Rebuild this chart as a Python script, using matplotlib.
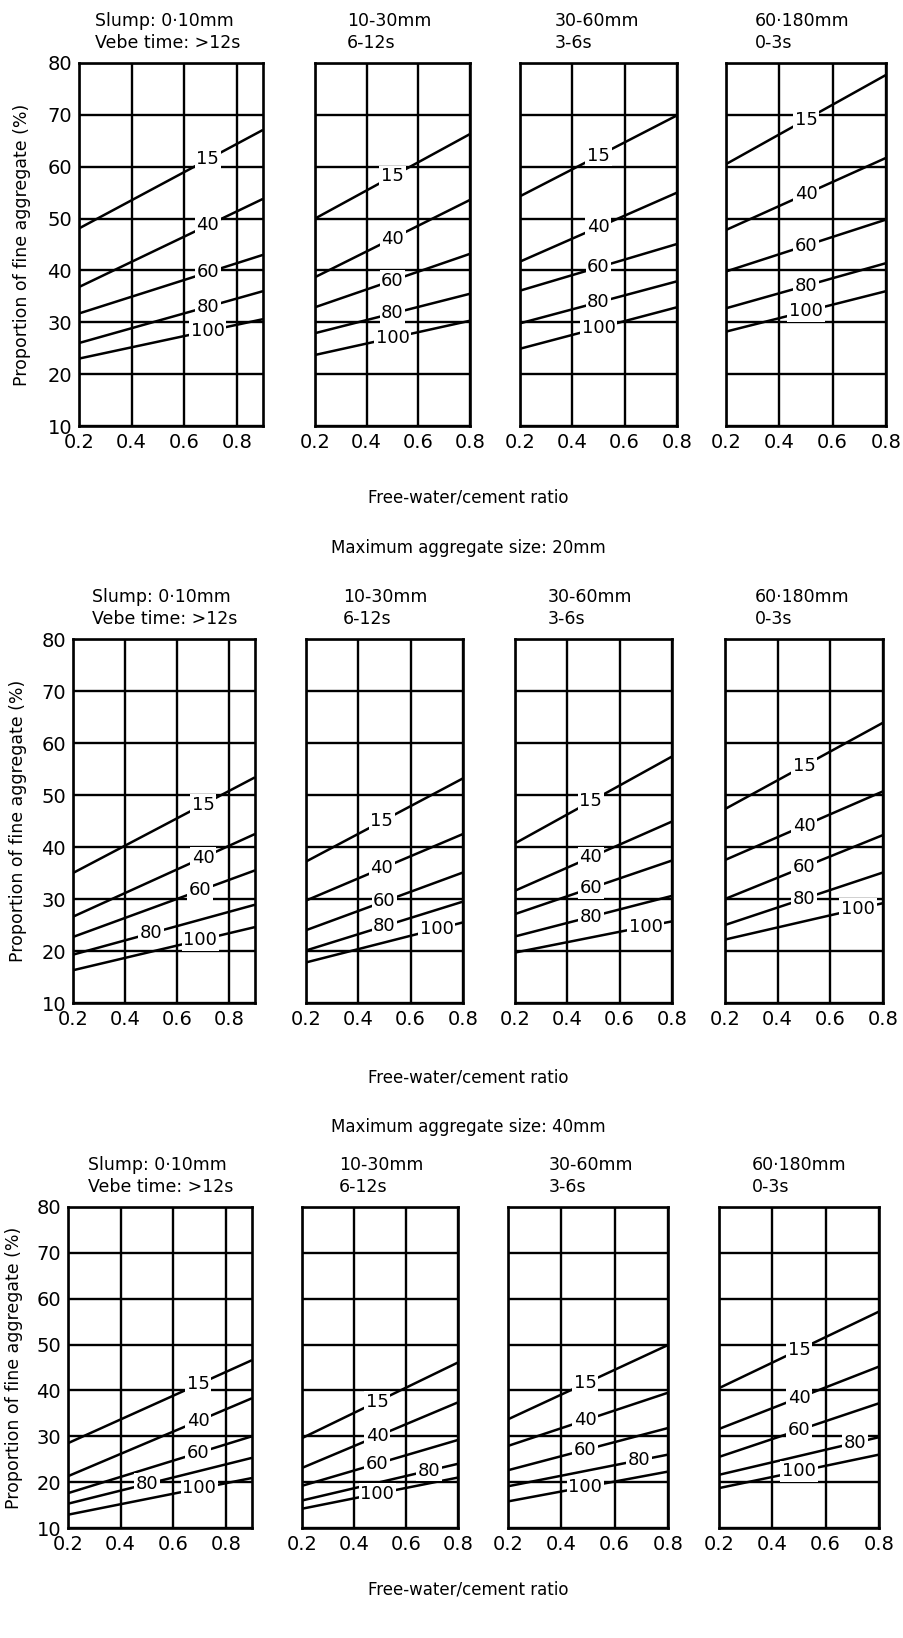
import numpy as np
import matplotlib
matplotlib.use('Agg')
import matplotlib.pyplot as plt

# %% data
# curves: % of fine aggregate passing 600um sieve
curve_names = ['15', '40', '60', '80', '100']
x_start = 0.2
x_end = [0.9, 0.8, 0.8, 0.8]

slump_top = ['Slump: 0·10mm', '10-30mm', '30-60mm', '60·180mm']
vebe_bottom = ['Vebe time: >12s', '6-12s', '3-6s', '0-3s']

# values at w/c = 0.2 and at right edge, one list per slump panel
start_10mm = [[48.1, 36.8, 31.7, 26.0, 23.0], [50.0, 38.7, 32.9, 27.9, 23.7],
              [54.3, 41.7, 36.1, 29.8, 24.9], [60.5, 47.8, 39.8, 32.7, 28.2]]
end_10mm = [[67.1, 53.8, 43.0, 36.0, 30.6], [66.3, 53.6, 43.2, 35.5, 30.3],
            [69.9, 55.0, 45.1, 37.9, 32.9], [77.7, 61.7, 49.8, 41.4, 36.0]]
labx_10mm = [[0.69, 0.69, 0.69, 0.69, 0.69], [0.5, 0.5, 0.5, 0.5, 0.5],
             [0.5, 0.5, 0.5, 0.5, 0.5], [0.5, 0.5, 0.5, 0.5, 0.5]]

start_20mm = [[35.0, 26.6, 22.7, 19.3, 16.3], [37.2, 29.7, 24.0, 20.1, 17.8],
              [40.7, 31.6, 27.1, 22.8, 19.7], [47.3, 37.5, 30.0, 25.0, 22.2]]
end_20mm = [[53.4, 42.5, 35.5, 28.9, 24.6], [53.2, 42.5, 35.1, 29.5, 25.5],
            [57.4, 44.9, 37.4, 30.6, 25.7], [63.9, 50.7, 42.3, 35.1, 29.2]]
labx_20mm = [[0.70, 0.70, 0.69, 0.50, 0.69], [0.49, 0.49, 0.5, 0.5, 0.70],
             [0.49, 0.49, 0.49, 0.49, 0.70], [0.5, 0.5, 0.5, 0.5, 0.705]]

start_40mm = [[28.5, 21.3, 17.6, 15.3, 12.9], [29.6, 23.1, 19.2, 16.0, 14.2],
              [33.7, 27.9, 22.6, 19.1, 15.8], [40.5, 31.6, 25.5, 21.6, 18.7]]
end_40mm = [[46.6, 38.3, 30.0, 25.3, 20.9], [46.1, 37.4, 29.2, 24.0, 21.0],
            [49.9, 39.5, 31.8, 26.0, 22.3], [57.2, 45.2, 37.2, 29.8, 26.0]]
labx_40mm = [[0.695, 0.695, 0.695, 0.50, 0.70], [0.49, 0.49, 0.49, 0.69, 0.49],
             [0.49, 0.49, 0.49, 0.69, 0.49], [0.5, 0.5, 0.5, 0.71, 0.5]]

x_ticks = [0.2, 0.4, 0.6, 0.8]
y_ticks = [10, 20, 30, 40, 50, 60, 70, 80]

# %% layout (pixels of the 904x1638 picture)
W, H = 904, 1638
rows = [
    dict(top=63, bottom=426, cols=[(79, 263), (315, 470), (520, 677), (726, 886)],
         head_x=[95, 347, 555, 755], ylab_x=22, xlab_y=497, big=None,
         start=start_10mm, end=end_10mm, labx=labx_10mm),
    dict(top=639, bottom=1003, cols=[(73, 255), (306, 463), (515, 672), (725, 883)],
         head_x=[92, 343, 548, 755], ylab_x=18, xlab_y=1077,
         big=('Maximum aggregate size: 20mm', 548),
         start=start_20mm, end=end_20mm, labx=labx_20mm),
    dict(top=1207, bottom=1528, cols=[(68, 252), (302, 458), (508, 668), (719, 879)],
         head_x=[88, 339, 549, 752], ylab_x=14, xlab_y=1590,
         big=('Maximum aggregate size: 40mm', 1127),
         start=start_40mm, end=end_40mm, labx=labx_40mm),
]

plt.rcParams['font.family'] = ['DejaVu Sans']
fig = plt.figure(figsize=(W / 100, H / 100), dpi=100)


def fx(x):
    return x / W


def fy(y):
    return 1 - y / H


for row in rows:
    for j, (l, r) in enumerate(row['cols']):
        ax = fig.add_axes([fx(l), fy(row['bottom']), (r - l) / W, (row['bottom'] - row['top']) / H])
        ax.set_xlim(x_start, x_end[j])
        ax.set_ylim(10, 80)
        ax.set_xticks(x_ticks)
        ax.set_yticks(y_ticks)
        ax.grid(True, color='black', linewidth=1.7, zorder=1)
        ax.set_axisbelow(True)
        for s in ax.spines.values():
            s.set_linewidth(1.9)
        ax.tick_params(length=0, labelsize=14, pad=5)
        if j > 0:
            ax.set_yticklabels([])

        for k, name in enumerate(curve_names):
            y0 = row['start'][j][k]
            y1 = row['end'][j][k]
            ax.plot([x_start, x_end[j]], [y0, y1], color='black', linewidth=1.8, zorder=2,
                    solid_capstyle='butt')
            lx = row['labx'][j][k]
            ly = y0 + (y1 - y0) * (lx - x_start) / (x_end[j] - x_start)
            ax.text(lx, ly, name, ha='center', va='center', fontsize=13, zorder=3,
                    bbox=dict(facecolor='white', edgecolor='none', pad=1.2))

        fig.text(fx(row['head_x'][j]), fy(row['top'] - 42), slump_top[j],
                 ha='left', va='center', fontsize=12.5)
        fig.text(fx(row['head_x'][j]), fy(row['top'] - 20), vebe_bottom[j],
                 ha='left', va='center', fontsize=12.5)

    fig.text(fx(row['ylab_x']), fy((row['top'] + row['bottom']) / 2),
             'Proportion of fine aggregate (%)', rotation=90,
             ha='center', va='center', fontsize=12.5)
    fig.text(fx(468), fy(row['xlab_y']), 'Free-water/cement ratio',
             ha='center', va='center', fontsize=12)
    if row['big'] is not None:
        fig.text(fx(468), fy(row['big'][1]), row['big'][0],
                 ha='center', va='center', fontsize=12)

fig.savefig('out.png', dpi=100, facecolor='white')
